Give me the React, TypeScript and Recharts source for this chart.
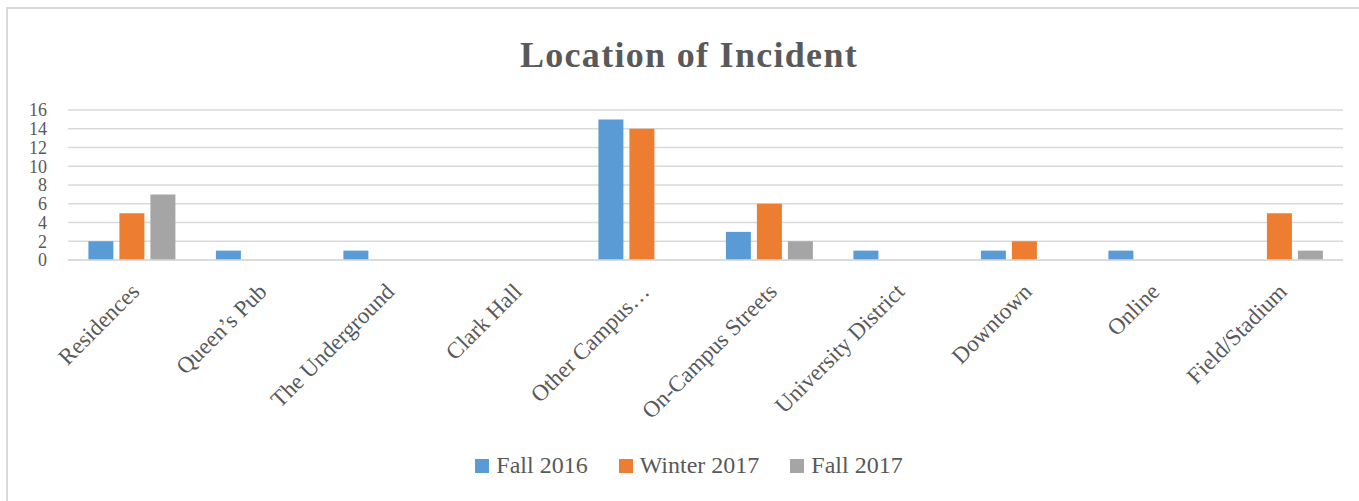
import React from 'react';
import { BarChart, Bar, XAxis, YAxis, CartesianGrid, Legend } from 'recharts';

const categories = [
  'Residences',
  'Queen’s Pub',
  'The Underground',
  'Clark Hall',
  'Other Campus…',
  'On-Campus Streets',
  'University District',
  'Downtown',
  'Online',
  'Field/Stadium',
];
const fall2016 = [2, 1, 1, 0, 15, 3, 1, 1, 1, 0];
const winter2017 = [5, 0, 0, 0, 14, 6, 0, 2, 0, 5];
const fall2017 = [7, 0, 0, 0, 0, 2, 0, 0, 0, 1];
const yTicks = [0, 2, 4, 6, 8, 10, 12, 14, 16];

const seriesNames = ['Fall 2016', 'Winter 2017', 'Fall 2017'];
const colors = ['#5B9BD5', '#ED7D31', '#A5A5A5'];

const data = categories.map((name, i) => ({
  name,
  f16: fall2016[i],
  w17: winter2017[i],
  f17: fall2017[i],
}));

const FONT = "'Liberation Serif', serif";
const TEXT = '#595959';

const XTick = (props: any) => {
  const { x, y, payload } = props;
  const tx = x + 9;
  const ty = y + 33;
  return (
    <text
      x={tx}
      y={ty}
      transform={`rotate(-45, ${tx}, ${ty})`}
      textAnchor="end"
      fill={TEXT}
      fontSize={23}
      fontFamily={FONT}
    >
      {payload.value}
    </text>
  );
};

const LegendContent = () => (
  <div style={{ display: 'flex', justifyContent: 'center', alignItems: 'center', fontFamily: FONT, fontSize: 24, color: TEXT }}>
    {seriesNames.map((n, i) => (
      <div key={n} style={{ display: 'flex', alignItems: 'center', marginRight: i < 2 ? 31 : 0 }}>
        <span style={{ display: 'inline-block', width: 14, height: 14, background: colors[i], marginRight: 7 }} />
        <span>{n}</span>
      </div>
    ))}
  </div>
);

export default function App() {
  return (
    <div style={{ position: 'absolute', left: 0, top: 0, width: 1359, height: 501, overflow: 'hidden', background: '#fff' }}>
      <div style={{ position: 'absolute', left: 6, top: 7, width: 1400, height: 600, borderTop: '2px solid #d9d9d9', borderLeft: '2px solid #d9d9d9' }} />
      <div
        style={{
          position: 'absolute',
          left: 0,
          top: 30,
          width: 1378,
          textAlign: 'center',
          fontFamily: FONT,
          fontWeight: 'bold',
          fontSize: 36,
          letterSpacing: 1.3,
          color: TEXT,
          lineHeight: '50px',
        }}
      >
        Location of Incident
      </div>
      <div style={{ position: 'absolute', left: 0, top: 0 }}>
        <BarChart
          width={1359}
          height={501}
          data={data}
          margin={{ top: 110, right: 16, left: 0, bottom: 0 }}
          barCategoryGap="16%"
          barGap={6}
        >
          <CartesianGrid vertical={false} stroke="#d9d9d9" strokeWidth={1.5} />
          <XAxis
            dataKey="name"
            height={241}
            interval={0}
            tickLine={false}
            tickSize={0}
            tickMargin={0}
            axisLine={{ stroke: '#d9d9d9', strokeWidth: 1.5 }}
            tick={<XTick />}
          />
          <YAxis
            width={68}
            domain={[0, 16]}
            ticks={yTicks}
            interval={0}
            tickLine={false}
            axisLine={false}
            tickSize={0}
            tickMargin={21}
            tick={{ fill: TEXT, fontSize: 18, fontFamily: FONT }}
          />
          <Legend
            layout="horizontal"
            verticalAlign="middle"
            align="center"
            wrapperStyle={{ top: 452, left: 0, width: 1378 }}
            content={<LegendContent />}
          />
          <Bar dataKey="f16" name={seriesNames[0]} fill={colors[0]} isAnimationActive={false} />
          <Bar dataKey="w17" name={seriesNames[1]} fill={colors[1]} isAnimationActive={false} />
          <Bar dataKey="f17" name={seriesNames[2]} fill={colors[2]} isAnimationActive={false} />
        </BarChart>
      </div>
    </div>
  );
}
